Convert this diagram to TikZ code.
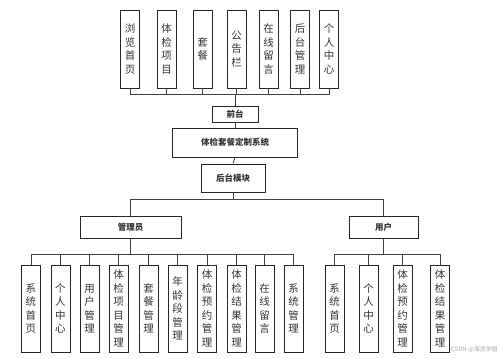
\documentclass[tikz,border=0pt]{standalone}
\usepackage{fontspec}
\newfontfamily\cjk{Noto Sans CJK SC}
\usetikzlibrary{positioning}

\tikzset{
    box/.style={rectangle, draw=black!85, line width=0.9pt, fill=white, inner sep=0pt, text=black!80},
    vbox/.style={box, minimum width=19pt, align=center, font=\cjk\fontsize{10.5}{13.5}\selectfont},
    hbox/.style={box, font=\cjk\bfseries\fontsize{8.5}{10}\selectfont},
    link/.style={draw=black!75, line width=0.8pt},
}

\begin{document}
\begin{tikzpicture}[x=1pt, y=-1pt] % y grows downwards, like the picture
    \useasboundingbox (0,0) rectangle (499,359);

    % middle chain
    \node [hbox, minimum width=46pt, minimum height=16pt] (qiantai) at (235,114) {前台};
    \node [hbox, minimum width=125pt, minimum height=29pt] (system) at (235,142.5) {体检套餐定制系统};
    \node [hbox, minimum width=64pt, minimum height=28pt] (houtai) at (233,178) {后台模块};
    \node [hbox, minimum width=101pt, minimum height=22pt] (admin) at (130.5,227) {管理员};
    \node [hbox, minimum width=69pt, minimum height=22pt] (user) at (383.5,227) {用户};

    % front-end modules
    \foreach \x/\t [count=\i] in {130/{浏\\览\\首\\页}, 166.5/{体\\检\\项\\目}, 202.5/{套\\餐},
            236.5/{公\\告\\栏}, 268.5/{在\\线\\留\\言}, 300/{后\\台\\管\\理}, 329/{个\\人\\中\\心}} {
        \node [vbox, minimum height=78pt] (top\i) at (\x,49) {\t};
        \draw [link] (top\i.south) -- ++(0,6) -| (qiantai.north);
    }

    % admin modules
    \foreach \x/\t [count=\i] in {31/{系\\统\\首\\页}, 60.5/{个\\人\\中\\心}, 89.5/{用\\户\\管\\理},
            118.5/{体\\检\\项\\目\\管\\理}, 148.5/{套\\餐\\管\\理}, 177.5/{年\\龄\\段\\管\\理},
            207/{体\\检\\预\\约\\管\\理}, 236.5/{体\\检\\结\\果\\管\\理}, 264.5/{在\\线\\留\\言},
            293.5/{系\\统\\管\\理}} {
        \node [vbox, minimum height=87pt] (adm\i) at (\x,308.5) {\t};
        \draw [link] (admin.south) -- ++(0,16) -| (adm\i.north);
    }

    % user modules
    \foreach \x/\t [count=\i] in {334.5/{系\\统\\首\\页}, 368.5/{个\\人\\中\\心},
            402.5/{体\\检\\预\\约\\管\\理}, 440/{体\\检\\结\\果\\管\\理}} {
        \node [vbox, minimum height=87pt] (usr\i) at (\x,308.5) {\t};
        \draw [link] (user.south) -- ++(0,16) -| (usr\i.north);
    }

    \draw [link] (qiantai.south) -- (system.north);
    \draw [link] (system.south) -- (houtai.north);
    \draw [link] (houtai.south) -- ++(0,7) -| (admin.north);
    \draw [link] (houtai.south) -- ++(0,7) -| (user.north);

    \node [font=\cjk\fontsize{6}{7}\selectfont, text=black!35, inner sep=0pt, anchor=east] (mark) at (498,349) {CSDN @海灵学姐};
\end{tikzpicture}
\end{document}
